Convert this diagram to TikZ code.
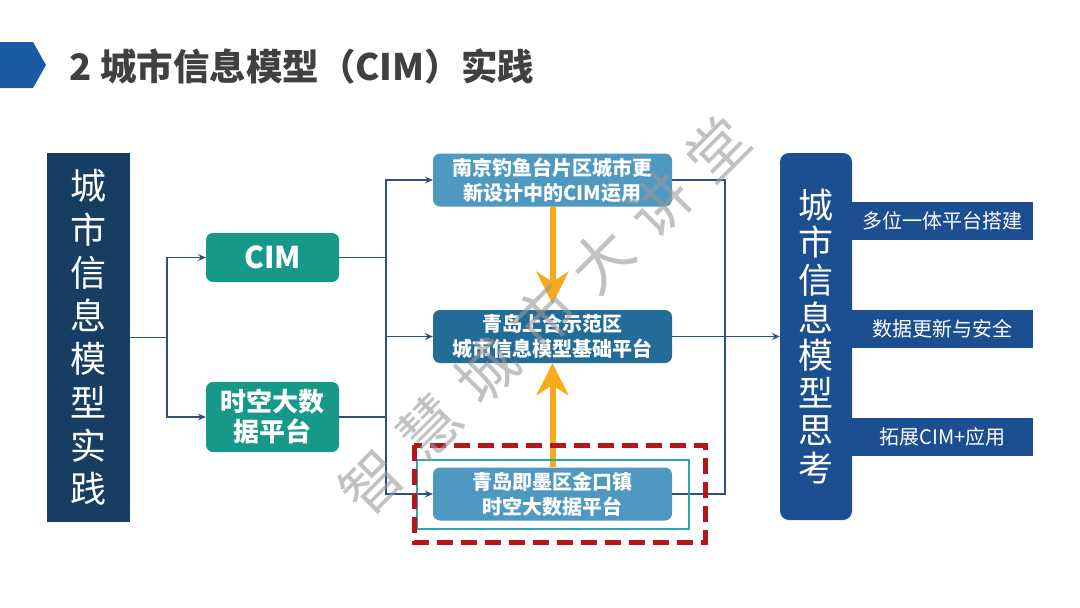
\documentclass[tikz,border=0pt]{standalone}
\usepackage{fontspec}
\setmainfont{Noto Sans CJK SC}
\usetikzlibrary{arrows.meta}
\definecolor{titleblue}{HTML}{1C5AA6}
\definecolor{titlegray}{HTML}{404040}
\definecolor{navy}{HTML}{173E62}
\definecolor{cimgreen}{HTML}{17998A}
\definecolor{steel}{HTML}{4F98C2}
\definecolor{steeldark}{HTML}{236C98}
\definecolor{thinkblue}{HTML}{1C4E92}
\definecolor{linkblue}{HTML}{2D5080}
\definecolor{amber}{HTML}{F8AA1C}
\definecolor{framered}{HTML}{B3161C}
\definecolor{framecyan}{HTML}{2BA7B3}
\begin{document}
\begin{tikzpicture}[x=1pt,y=-1pt,
    link/.style={draw=linkblue, line width=1.2pt},
    tip/.style={-{Stealth[length=8pt,width=7pt,inset=3pt]}},
    upward/.style={draw=amber, line width=6pt, -{Stealth[length=32pt,width=32pt,inset=10pt]}},
    sidebox/.style={fill=navy, text=white, inner sep=0pt, align=center},
    cimbox/.style={fill=cimgreen, text=white, rounded corners=7pt, minimum width=133pt, inner sep=0pt, align=center, font=\bfseries},
    casebox/.style={fill=steel, text=white, rounded corners=7pt, minimum width=239pt, minimum height=53pt, inner sep=0pt, align=center, font=\bfseries\fontsize{20}{25}\selectfont},
    tabbox/.style={fill=thinkblue, text=white, minimum width=181pt, minimum height=38pt, inner sep=0pt, font=\fontsize{20}{20}\selectfont},
    wm/.style={text=black!40, opacity=0.6, rotate=45, font=\fontsize{60}{60}\selectfont}]
    \fill[white] (0,0) rectangle (1080,608);
    \useasboundingbox (0,0) rectangle (1080,608);

    \fill[titleblue] (0,42) -- (33,42) -- (46,65) -- (33,88) -- (0,88) -- cycle;
    \draw (66,66) node[anchor=west, text=titlegray, font=\bfseries\fontsize{36.5}{36.5}\selectfont] (title) {2 城市信息模型（CIM）实践};

    \draw (88.5,337.5) node[sidebox, minimum width=83pt, minimum height=369pt, font=\fontsize{36}{43.3}\selectfont] (side) {城\\市\\信\\息\\模\\型\\实\\践};
    \draw (272.5,257.5) node[cimbox, minimum height=49pt, font=\bfseries\fontsize{30}{30}\selectfont] (cim) {CIM};
    \draw (272.5,417) node[cimbox, minimum height=70pt, font=\bfseries\fontsize{26}{30}\selectfont] (st) {时空大数\\据平台};

    \draw (552.5,180) node[casebox] (nj) {南京钓鱼台片区城市更\\新设计中的CIM运用};
    \draw (552.5,336.5) node[casebox, fill=steeldark] (sh) {青岛上合示范区\\城市信息模型基础平台};
    \draw (552.5,494) node[casebox] (qd) {青岛即墨区金口镇\\时空大数据平台};

    \draw (816,336.5) node[sidebox, fill=thinkblue, rounded corners=9pt, minimum width=72pt, minimum height=367pt, font=\fontsize{35}{37.6}\selectfont] (think) {城\\市\\信\\息\\模\\型\\思\\考};
    \draw (942.5,221) node[tabbox] (t1) {多位一体平台搭建};
    \draw (942.5,329) node[tabbox] (t2) {数据更新与安全};
    \draw (942.5,436.5) node[tabbox] (t3) {拓展CIM+应用};

    \coordinate (a) at (167,337.5);
    \coordinate (b) at (386,336.5);
    \coordinate (c) at (725,336.5);
    \draw[link] (side) -- (a);
    \draw[link, tip] (a) |- (cim);
    \draw[link, tip] (a) |- (st);
    \draw[link] (cim) -| (b);
    \draw[link] (st) -| (b);
    \draw[link, tip] (b) |- (nj);
    \draw[link, tip] (b) -- (sh);
    \draw[link, tip] (b) |- (qd);
    \draw[link] (nj) -| (c);
    \draw[link] (qd) -| (c);
    \draw[link, tip] (sh) -- (think);

    \draw[upward] (nj) -- ([yshift=6pt]sh.north);
    \draw[upward] (qd) -- (sh);

    \draw[framecyan, line width=1.5pt] (417,460) rectangle (689,529);
    \draw[framered, line width=5pt, dash pattern=on 16pt off 8pt] (414,445) rectangle (705,542);

    \foreach \c [count=\i from 0] in {智,慧,城,市,大,讲,堂}
        \node[wm] at (372+\i*57.5, 482-\i*55.5) {\c};
\end{tikzpicture}
\end{document}
